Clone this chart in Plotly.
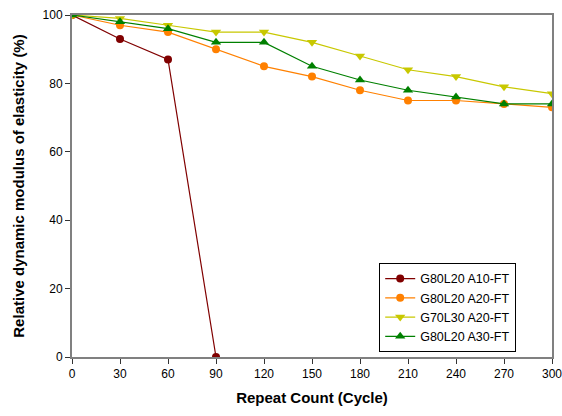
import plotly.graph_objects as go

cycles = [0, 30, 60, 90, 120, 150, 180, 210, 240, 270, 300]
s1_x = [0, 30, 60, 90]
s1_y = [100, 93, 87, 0]
s2_y = [100, 97, 95, 90, 85, 82, 78, 75, 75, 74, 73]
s3_y = [100, 99, 97, 95, 95, 92, 88, 84, 82, 79, 77]
s4_y = [100, 98, 96, 92, 92, 85, 81, 78, 76, 74, 74]
names = ["G80L20 A10-FT", "G80L20 A20-FT", "G70L30 A20-FT", "G80L20 A30-FT"]
colors = ["#800000", "#FF8000", "#C8C800", "#008000"]

fig = go.Figure()
fig.add_trace(go.Scatter(x=s1_x, y=s1_y, name=names[0], mode="lines+markers",
                         line=dict(color=colors[0], width=1.2),
                         marker=dict(symbol="circle", size=8, color=colors[0])))
fig.add_trace(go.Scatter(x=cycles, y=s2_y, name=names[1], mode="lines+markers",
                         line=dict(color=colors[1], width=1.2),
                         marker=dict(symbol="circle", size=8, color=colors[1])))
fig.add_trace(go.Scatter(x=cycles, y=s3_y, name=names[2], mode="lines+markers",
                         line=dict(color=colors[2], width=1.2),
                         marker=dict(symbol="triangle-down", size=9, color=colors[2])))
fig.add_trace(go.Scatter(x=cycles, y=s4_y, name=names[3], mode="lines+markers",
                         line=dict(color=colors[3], width=1.2),
                         marker=dict(symbol="triangle-up", size=9, color=colors[3])))

fig.update_layout(
    width=562, height=416,
    margin=dict(l=72, r=10, t=15, b=59),
    paper_bgcolor="white", plot_bgcolor="white",
    font=dict(family="Liberation Sans, Arial, sans-serif", size=12, color="black"),
    legend=dict(x=0.64, y=0.275, xanchor="left", yanchor="top",
                bordercolor="black", borderwidth=1, bgcolor="white",
                font=dict(size=12.5), tracegroupgap=0, itemwidth=30),
    xaxis=dict(range=[0, 300], tickvals=cycles, showgrid=False, zeroline=False,
               showline=True, linecolor="#808080", linewidth=2, mirror=True,
               ticks="outside", ticklen=5, tickcolor="#333333", automargin=False,
               ticklabeloverflow="allow",
               title=dict(text="<b>Repeat Count (Cycle)</b>", font=dict(size=15), standoff=12)),
    yaxis=dict(range=[0, 100], tickvals=[0, 20, 40, 60, 80, 100], showgrid=False, zeroline=False,
               showline=True, linecolor="#808080", linewidth=2, mirror=True,
               ticks="outside", ticklen=5, tickcolor="#333333", automargin=False,
               title=dict(text="<b>Relative dynamic modulus of elasticity (%)</b>", font=dict(size=15), standoff=14)),
)
fig.write_html("out.html")
